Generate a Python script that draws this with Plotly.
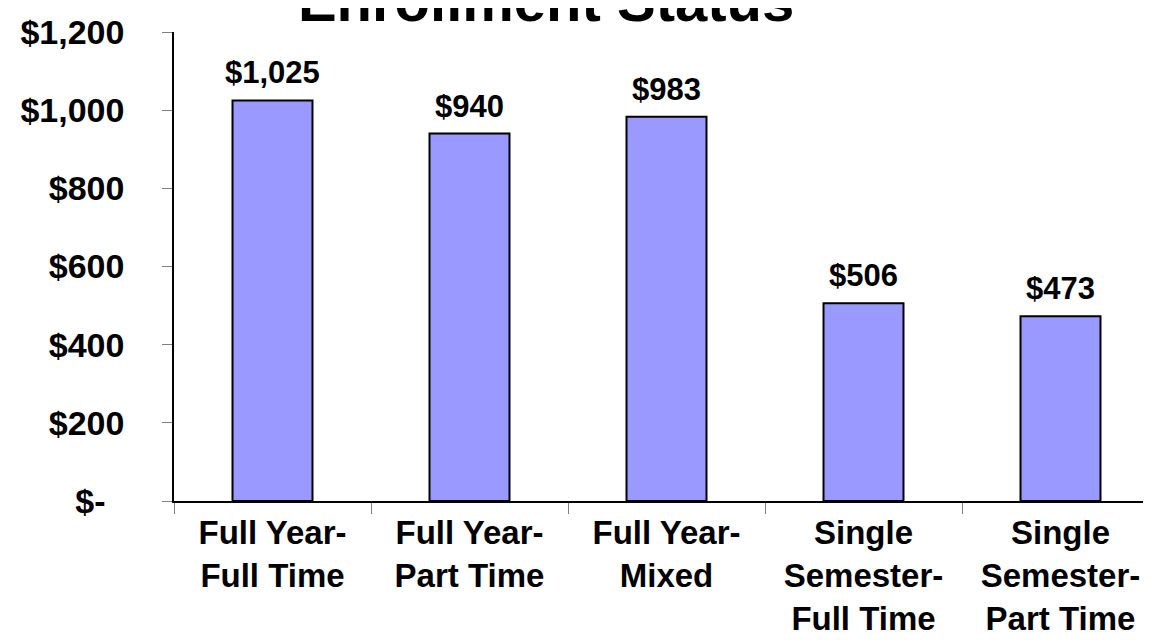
import plotly.graph_objects as go

categories = ["FY-FT", "FY-PT", "FY-MX", "SS-FT", "SS-PT"]
tick_labels = [
    "Full Year-<br>Full Time",
    "Full Year-<br>Part Time",
    "Full Year-<br>Mixed",
    "Single<br>Semester-<br>Full Time",
    "Single<br>Semester-<br>Part Time",
]
values = [1025, 940, 983, 506, 473]
y_ticks = [0, 200, 400, 600, 800, 1000, 1200]
y_tick_text = ["$-\u00a0\u00a0", "$200", "$400", "$600", "$800", "$1,000", "$1,200"]
title_text = "Enrollment Status"

FONT = "Liberation Sans, Arial, sans-serif"

fig = go.Figure()
fig.add_trace(go.Bar(
    x=categories,
    y=values,
    marker=dict(color="#9999FF", line=dict(color="black", width=2)),
    hoverinfo="skip",
    cliponaxis=False,
))

for c, v in zip(categories, values):
    fig.add_annotation(
        x=c, y=v, xref="x", yref="y",
        text="${:,}".format(v),
        showarrow=False, yanchor="bottom", yshift=8,
        font=dict(family=FONT, size=31, color="black", weight="bold"),
    )

fig.update_layout(
    width=1151, height=640,
    margin=dict(l=166, r=0, t=24, b=147, autoexpand=False),
    paper_bgcolor="white", plot_bgcolor="white",
    bargap=0.594,
    showlegend=False,
    title=dict(
        text=title_text, x=0.4675, xanchor="center", xref="container",
        y=0.98, yanchor="bottom", yref="container",
        font=dict(family=FONT, size=58, color="black", weight="bold"),
    ),
)
fig.update_xaxes(
    tickmode="array", tickvals=categories, ticktext=tick_labels,
    showline=True, linecolor="black", linewidth=1.5,
    ticks="outside", tickson="boundaries", ticklen=11, tickcolor="#808080", tickwidth=1,
    showgrid=False, zeroline=False, automargin=False,
    ticklabelstandoff=2,
    tickfont=dict(family=FONT, size=33, color="black", weight="bold"),
)
fig.update_yaxes(
    range=[0, 1200],
    tickmode="array", tickvals=y_ticks, ticktext=y_tick_text,
    showline=True, linecolor="black", linewidth=1.5,
    ticks="outside", ticklen=10, tickcolor="#808080", tickwidth=1,
    showgrid=False, zeroline=False, automargin=False,
    ticklabelstandoff=31,
    tickfont=dict(family=FONT, size=34, color="black", weight="bold"),
)

fig.write_html("out.html")
